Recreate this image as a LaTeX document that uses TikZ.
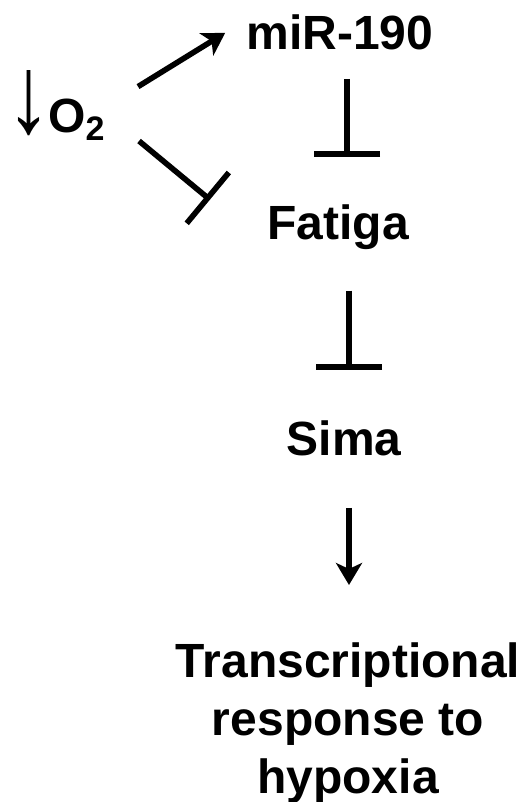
\documentclass[tikz,border=0pt]{standalone}
\usepackage{fontspec}
\setmainfont{Liberation Sans}
\usetikzlibrary{arrows.meta}

\begin{document}
\begin{tikzpicture}[x=0.5pt, y=-0.5pt,
    gene/.style={font=\bfseries\fontsize{24}{29}\selectfont, inner sep=0pt},
    activ/.style={line width=2.8pt, -{Stealth[length=11pt, width=13pt, inset=3pt]}},
    inhib/.style={line width=2.8pt, -{Bar[width=33pt]}}]
    \useasboundingbox (0,0) rectangle (527,802);

    % Labels of the pathway
    \node[gene, anchor=base west] (o2) at (6,133) {\resizebox{22.5pt}{31pt}{↓}\hspace{-1.5pt}O\raisebox{-4pt}{\fontsize{17}{17}\selectfont 2}};
    \node[gene, anchor=base] (mir) at (340,50) {miR-190};
    \node[gene, anchor=base] (fatiga) at (338,240) {Fatiga};
    \node[gene, anchor=base] (sima) at (344,455) {Sima};
    \node[gene, align=center, anchor=north] (resp) at (348,642) {Transcriptional\\response to\\hypoxia};

    % Low oxygen acts on both
    \draw[activ] ([xshift=16.5pt, yshift=-8pt]o2.north east) -- ([xshift=-10.5pt]mir.west);
    \draw[inhib] ([xshift=17pt, yshift=-4pt]o2.base east) -- ([xshift=-28.5pt, yshift=14pt]fatiga.west);

    % Vertical chain
    \draw[inhib, shorten <=14pt, shorten >=24pt] ([xshift=3.5pt]mir.south) -- ([xshift=4.5pt]fatiga.north);
    \draw[inhib, shorten <=20pt, shorten >=25pt] ([xshift=5.5pt]fatiga.south) -- ([xshift=2.5pt]sima.north);
    \draw[activ, shorten <=26pt, shorten >=28.5pt] ([xshift=2.5pt]sima.south) -- ([xshift=0.5pt]resp.north);
\end{tikzpicture}
\end{document}
